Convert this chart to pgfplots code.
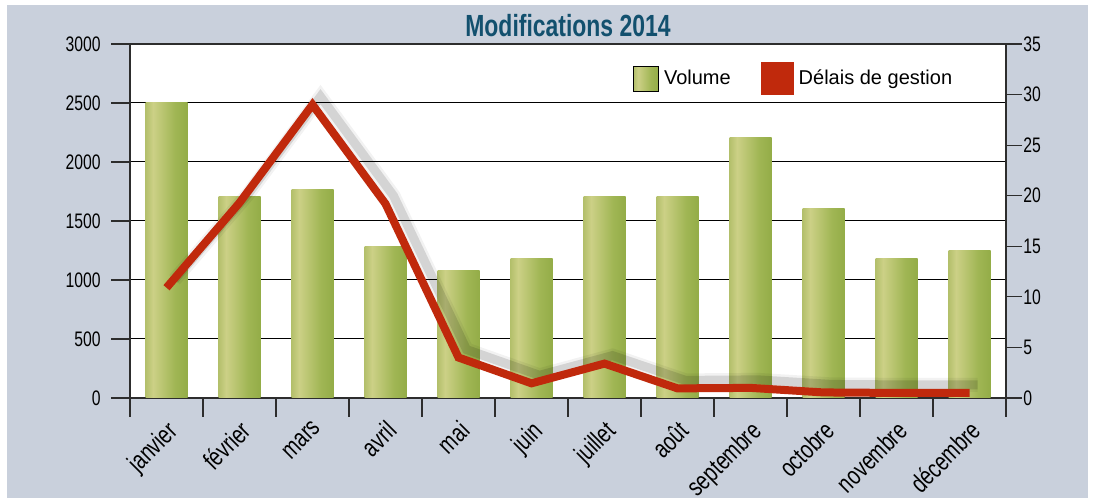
\documentclass[border=0pt]{standalone}
\usepackage{fontspec}
\usepackage{pgfplots}
\usepackage{pgfplotstable}
\pgfplotsset{compat=1.18}
\setmainfont{Liberation Sans}
\newfontfamily\cond[FakeStretch=0.75]{Liberation Sans}
\definecolor{panelgray}{RGB}{201,208,220}
\definecolor{axisgray}{RGB}{45,45,45}
\definecolor{bardark}{RGB}{134,162,58}
\definecolor{barmid}{RGB}{160,182,84}
\definecolor{barlight}{RGB}{204,208,134}
\definecolor{linered}{RGB}{192,41,12}
\definecolor{titleblue}{RGB}{18,80,110}
\pgfdeclarehorizontalshading{barshade}{100bp}{color(0bp)=(bardark); color(8bp)=(bardark); color(34bp)=(barlight); color(60bp)=(barmid); color(92bp)=(bardark); color(100bp)=(bardark)}

\pgfplotstableread{
x vol del
0 2500 10.9
1 1710 19.3
2 1770 29.0
3 1280 19.2
4 1080 4.0
5 1180 1.45
6 1710 3.4
7 1710 0.95
8 2210 1.0
9 1610 0.55
10 1180 0.5
11 1250 0.5
}\data

\begin{document}
\begin{tikzpicture}
\useasboundingbox (0,0) rectangle (548pt,250.5pt);
\fill[panelgray] (3.5pt,1.5pt) rectangle (544pt,248pt);
\begin{axis}[
  at={(65pt,51.5pt)}, anchor=south west,
  scale only axis, width=438pt, height=177pt,
  xmin=-0.5, xmax=11.5, ymin=0, ymax=3000,
  axis background/.style={fill=white},
  axis line style={draw=axisgray, line width=0.6pt},
  tick align=outside,
  major tick length=9.5pt,
  tick style={draw=axisgray, line width=0.6pt},
  xtick={-0.5,0.5,...,11.5}, xticklabels={},
  xtick pos=bottom,
  ytick={0,500,...,3000}, ytick pos=left,
  ymajorgrids, grid style={black, line width=0.5pt},
  /pgf/number format/assume math mode=true,
  /pgf/number format/set thousands separator={},
  yticklabel style={font=\cond\fontsize{10.5}{12}\selectfont, inner sep=0pt, xshift=-5pt},
]
\pgfplotsinvokeforeach{0,...,11}{
  \addplot[ybar, bar width=21pt, bar shift=0pt, draw=none, shade, shading=barshade,
    restrict x to domain=#1:#1] table[x=x, y=vol] {\data};
}
\end{axis}
\begin{axis}[
  at={(65pt,51.5pt)}, anchor=south west,
  scale only axis, width=438pt, height=177pt,
  xmin=-0.5, xmax=11.5, ymin=0, ymax=35,
  axis y line*=right,
  x axis line style={draw=none},
  y axis line style={draw=axisgray, line width=0.6pt},
  tick align=outside,
  major tick length=8pt,
  ytick={0,5,...,35},
  ytick style={draw=axisgray, line width=0.6pt},
  xtick={0,...,11}, xtick style={draw=none}, xtick pos=bottom,
  xticklabels={janvier,février,mars,avril,mai,juin,juillet,août,septembre,octobre,novembre,décembre},
  xticklabel style={font=\cond\fontsize{13}{15}\selectfont, rotate=45, anchor=north east, inner sep=0pt, xshift=-2pt, yshift=-1.5pt},
  /pgf/number format/assume math mode=true,
  yticklabel style={font=\cond\fontsize{10.5}{12}\selectfont, inner sep=0pt, xshift=0.5pt},
  legend style={draw=none, fill=none, inner sep=0pt, at={(0.574,0.902)}, anchor=west,
    font=\fontsize{10}{12}\selectfont, nodes={inner sep=0pt},
    /tikz/every odd column/.append style={column sep=2.5pt},
    /tikz/every even column/.append style={column sep=15pt}},
  legend columns=2,
]
\addlegendimage{legend image code/.code={\path[shade, shading=barshade] (0pt,-6.25pt) rectangle (12.5pt,6.25pt);}}
\addlegendentry{Volume}
\addplot[forget plot, line width=7pt, black, opacity=0.05, xshift=4pt, yshift=4pt] table[x=x, y=del] {\data};
\addplot[forget plot, line width=4.5pt, black, opacity=0.12, xshift=4pt, yshift=4pt] table[x=x, y=del] {\data};
\addplot[line width=4pt, linered, line join=miter,
  legend image code/.code={\fill[linered] (0pt,-6.25pt) rectangle (12.5pt,6.25pt);}] table[x=x, y=del] {\data};
\addlegendentry{Délais de gestion}
\end{axis}
\node[anchor=base, text=titleblue, font=\cond\bfseries\fontsize{15.3}{18}\selectfont] at (284pt,232pt) {Modifications 2014};
\end{tikzpicture}
\end{document}
